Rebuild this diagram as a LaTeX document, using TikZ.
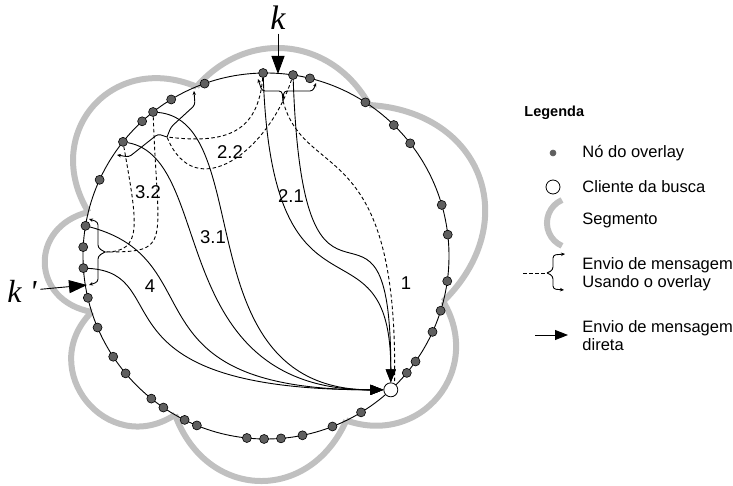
\documentclass[tikz,border=0pt]{standalone}
\usepackage{fontspec}
\setmainfont{Liberation Sans}
\newfontfamily\kfont{Liberation Serif}
\usetikzlibrary{arrows.meta, positioning}
\definecolor{seggray}{RGB}{192,192,192}
\definecolor{peergray}{RGB}{95,95,95}
\tikzstyle{peer} = [circle, draw=black, fill=peergray, line width=0.6pt, inner sep=0, minimum size=9pt]
\tikzstyle{client} = [circle, draw=black, fill=white, line width=0.8pt, inner sep=0, minimum size=14pt]
\tikzstyle{segline} = [draw=seggray, line width=6pt]
\tikzstyle{viaoverlay} = [dash pattern=on 3.5pt off 2.5pt]
\tikzstyle{direct} = [-{Triangle[length=13pt, width=10pt]}]
\tikzstyle{bigptr} = [-{Triangle[length=18pt, width=13pt]}]
\tikzstyle{splitarm} = [-{Stealth[length=4pt, width=3.5pt]}, rounded corners=3pt]
\tikzstyle{msgnum} = [font=\fontsize{18.5}{20}\selectfont]
\tikzstyle{legtext} = [anchor=west, align=left, inner sep=0, font=\fontsize{16.5}{18}\selectfont]

\begin{document}
\begin{tikzpicture}[x=1pt, y=1pt, line width=0.9pt]
	\useasboundingbox (-266,-230) rectangle (467,256);

	% segments of the ring
	\foreach \a/\b/\s/\l in {166.1/112.3/72/1.42, 112.3/55.6/55/1.14, 55.6/-14.4/66/1.38,
			-14.4/-64/70/1.33, -64/-119.8/68/1.36, -119.8/-162.2/84/1.56, -162.2/-193.9/78/1.58}
		\draw[segline] (\a:183) to[bend left=\s, looseness=\l] (\b:183);

	% the ring and its nodes
	\draw (0,0) circle[radius=183];
	\foreach \a [count=\i] in {90.9, 81.5, 76.1, 57.1, 45.7, 38.0, 16.2, 6.7, -7.9, -17.4, -24.5,
			-35.2, -39.7, -58.7, -68.7, -78.5, -85.3, -90.6, -96.0, -112.2, -116.4, -124.1,
			-128.8, -140.1, -146.6, -157.0, -166.8, -176.2, 177.2, 170.5, 155.4, 141.4,
			132.6, 128.1, 121.2, 109.6}
		\node[peer] (p\i) at (\a:183) {};
	\node[client] (client) at (-47:183) {};

	% direct replies
	\draw[direct] (p1) to[out=-88, in=90, out distance=268pt, in distance=176pt] (client);
	\draw[direct] (p2) to[out=-88, in=90, out distance=300pt, in distance=240pt] (client);
	\draw[direct] (p34) to[out=-5, in=180, out distance=100pt, in distance=200pt] (client);
	\draw[direct] (p32) to[out=-10, in=180, out distance=90pt, in distance=220pt] (client);
	\draw[direct] (p30) to[out=-15, in=180, out distance=130pt, in distance=262pt] (client);
	\draw[direct] (p28) to[out=-3, in=180, out distance=90pt, in distance=297pt] (client);

	% messages using the overlay
	\coordinate (b1) at (17,155);
	\coordinate (b2) at (-99,119);
	\coordinate (b3) at (-161,4);
	\draw[viaoverlay] (b1) to[out=-75, in=89, out distance=85pt, in distance=250pt] (client.60);
	\draw[viaoverlay] (p1) to[out=-95, in=-7, out distance=55pt, in distance=60pt] (b2);
	\draw[viaoverlay] (p2) to[out=-108, in=-68, out distance=75pt, in distance=75pt] (b2);
	\draw[viaoverlay] (p34) to[out=-88, in=0, out distance=130pt, in distance=68pt] (b3);
	\draw[viaoverlay] (p32) to[out=-80, in=0, out distance=80pt, in distance=38pt] (b3);

	% braces
	\draw[splitarm] (b1) -- (16,165) -- (-4,165) -- (-8,177);
	\draw[splitarm] (b1) -- (18,165) -- (47,165) -- (50,173);
	\draw[splitarm] (b2) -- (-108,122) -- (-137,99) -- (-149,101);
	\draw[splitarm] (b2) -- (-95,129) -- (-71,151) -- (-72,165);
	\draw[splitarm] (b3) -- (-168,8) -- (-168,34) -- (-177,37);
	\draw[splitarm] (b3) -- (-168,0) -- (-168,-26) -- (-177,-29);

	% message numbers
	\node[msgnum] (m22) at (-36,104) {2.2};
	\node[msgnum] (m21) at (25,60) {2.1};
	\node[msgnum] (m32) at (-118,64) {3.2};
	\node[msgnum] (m31) at (-53,19) {3.1};
	\node[msgnum] (m4) at (-116,-30) {4};
	\node[msgnum] (m1) at (140,-27) {1};

	% keys
	\node[font=\fontsize{34}{34}\selectfont\kfont\itshape] (k) at (12,238) {k};
	\coordinate (ktip) at (12,182);
	\draw[bigptr] (k) -- (ktip);
	\node[font=\fontsize{32}{32}\selectfont\kfont\itshape] (kp) at (-244,-35) {k \textquotesingle};
	\coordinate (kptip) at (-179,-29);
	\draw[bigptr] (kp) -- (kptip);

	% legend
	\node[anchor=west, inner sep=0, font=\fontsize{14.5}{16}\selectfont\bfseries] (legtitle) at (258,143) {Legenda};
	\node[peer, draw=peergray, minimum size=6pt] (legpeer) at (287,103) {};
	\node[legtext] (legpeertext) at (316,103) {Nó do overlay};
	\node[client] (legclient) at (287,69) {};
	\node[legtext] (legclienttext) at (316,69) {Cliente da busca};
	\draw[segline] (296,56) arc[start angle=113.5, end angle=246.5, radius=25];
	\node[legtext] (legsegtext) at (316,36) {Segmento};
	\coordinate (legbrace) at (281,-17);
	\coordinate (legdash) at (257,-17);
	\draw[viaoverlay] (legdash) -- (legbrace);
	\draw[splitarm] (legbrace) -- (287,-14) -- (287,1) -- (299,2);
	\draw[splitarm] (legbrace) -- (287,-20) -- (287,-33) -- (298,-34);
	\node[legtext] (legovltext) at (316,-18) {Envio de mensagem\\Usando o overlay};
	\coordinate (legfrom) at (269,-79);
	\coordinate (legto) at (302,-79);
	\draw[direct] (legfrom) -- (legto);
	\node[legtext] (legdirtext) at (316,-80) {Envio de mensagem\\direta};
\end{tikzpicture}
\end{document}
